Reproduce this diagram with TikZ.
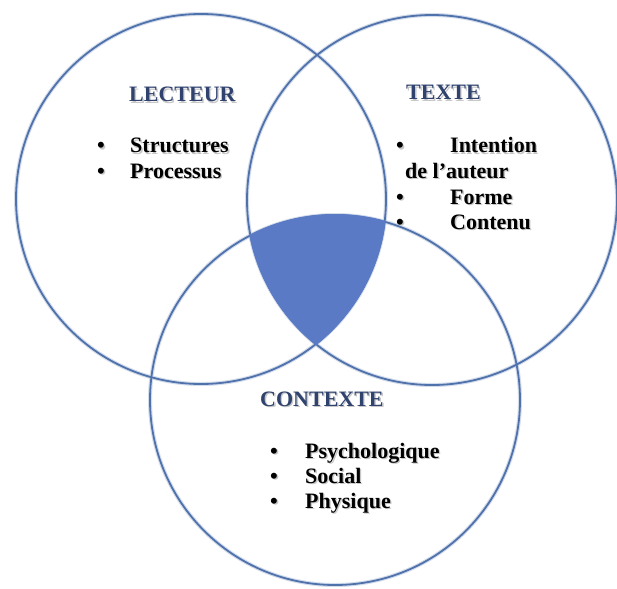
\documentclass[tikz,border=0pt]{standalone}
\usepackage{fontspec}
\setmainfont{Liberation Serif}
\definecolor{ring}{RGB}{79,113,172}
\definecolor{core}{RGB}{90,122,198}
\definecolor{title}{RGB}{48,66,110}
\newcommand\shtext[1]{\leavevmode\rlap{\kern1.3pt\raisebox{-1.3pt}{\textcolor{black!22}{#1}}}#1}
\tikzset{
  ringline/.style={draw=ring, line width=1.8pt},
  head/.style={anchor=base west, inner sep=0pt, font=\fontsize{22}{24}\selectfont\bfseries, text=title},
  item/.style={anchor=base west, inner sep=0pt, font=\fontsize{22}{24}\selectfont\bfseries, text=black},
}
\begin{document}
\begin{tikzpicture}[x=1pt,y=-1pt]
\useasboundingbox (0,0) rectangle (617,588);
\fill[white] (0,0) rectangle (617,588);
\coordinate (cL) at (201,199);
\coordinate (cR) at (432,200);
\coordinate (cB) at (335,400);
% soft halo of the outlines
\foreach \c in {cL,cR,cB}{\draw[ring!25, line width=4pt] (\c) circle[radius=185pt];}
\foreach \c in {cL,cR,cB}{\draw[ringline] (\c) circle[radius=185pt];}
% shared core
\begin{scope}
  \clip (cL) circle[radius=186pt];
  \clip (cR) circle[radius=186pt];
  \fill[core] (cB) circle[radius=186pt];
\end{scope}
% LECTEUR
\node[head] (hL) at (129,102) {\shtext{LECTEUR}};
\node[item] (bL1) at (97,153) {\shtext{•}};
\node[item] (tL1) at (130,153) {\shtext{Structures}};
\node[item] (bL2) at (97,178) {\shtext{•}};
\node[item] (tL2) at (130,178) {\shtext{Processus}};
% TEXTE
\node[head] (hR) at (406,100) {\shtext{TEXTE}};
\node[item] (bR1) at (396,153) {\shtext{•}};
\node[item] (tR1) at (450,153) {\shtext{Intention}};
\node[item] (tR2) at (405,178) {\shtext{de l’auteur}};
\node[item] (bR3) at (396,204) {\shtext{•}};
\node[item] (tR3) at (450,204) {\shtext{Forme}};
\node[item] (bR4) at (396,229) {\shtext{•}};
\node[item] (tR4) at (450,229) {\shtext{Contenu}};
% CONTEXTE
\node[head] (hB) at (260,406) {\shtext{CONTEXTE}};
\node[item] (bB1) at (270,458) {\shtext{•}};
\node[item] (tB1) at (305,458) {\shtext{Psychologique}};
\node[item] (bB2) at (270,483) {\shtext{•}};
\node[item] (tB2) at (305,483) {\shtext{Social}};
\node[item] (bB3) at (270,508) {\shtext{•}};
\node[item] (tB3) at (305,508) {\shtext{Physique}};
\end{tikzpicture}
\end{document}
